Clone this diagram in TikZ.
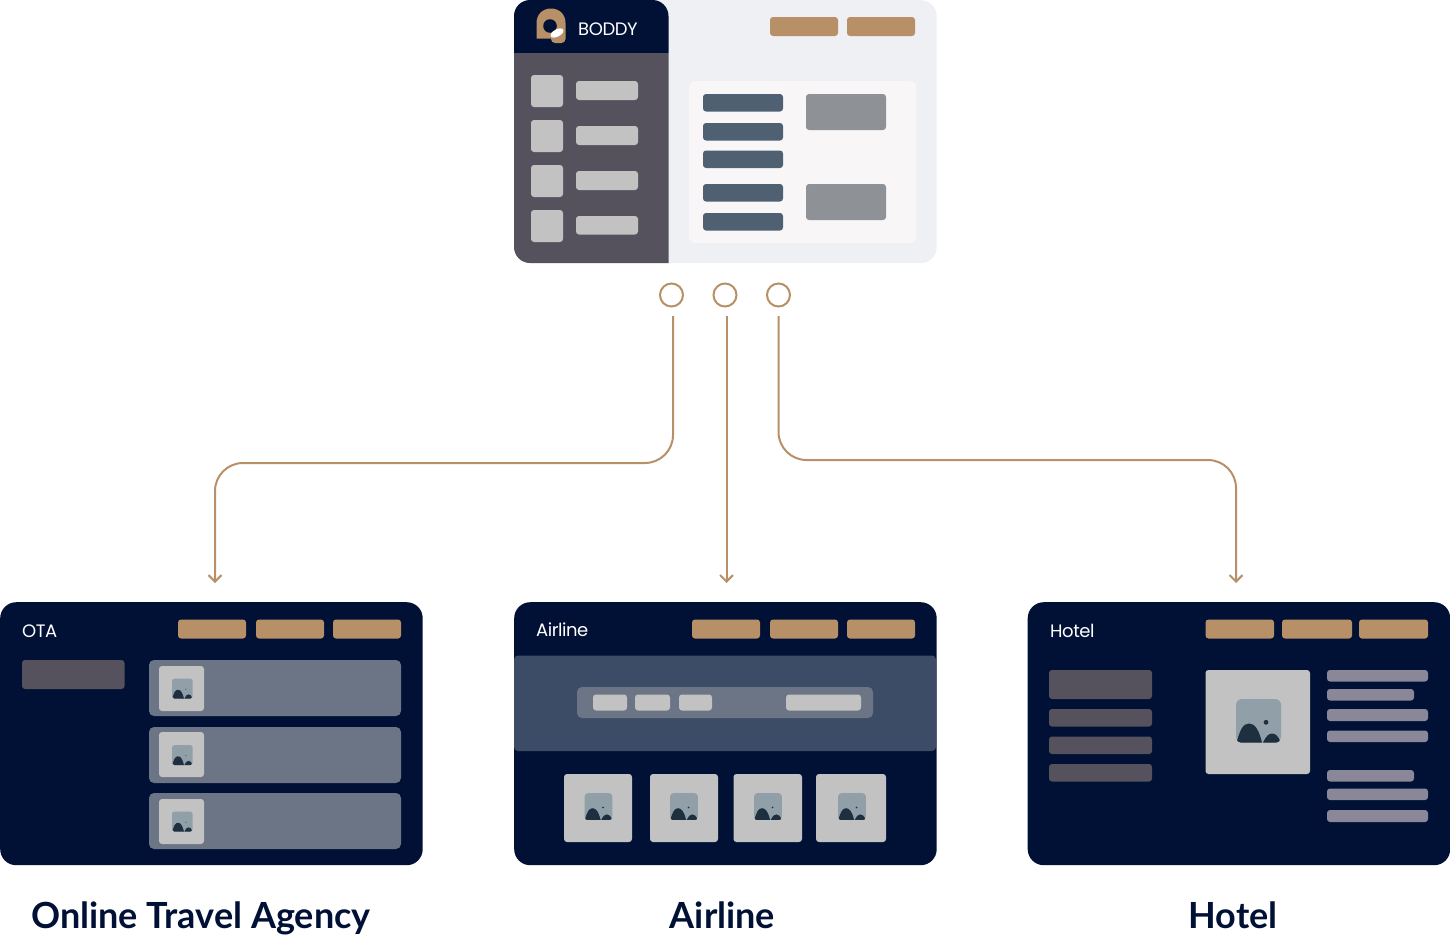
\documentclass[tikz,border=0pt]{standalone}
\usepackage{fontspec}
\setmainfont{Lato}
\newfontfamily\uifont{Poppins}[LetterSpace=-2.5]
\usetikzlibrary{arrows.meta}
\definecolor{navy}{HTML}{001135}
\definecolor{sand}{HTML}{B89068}
\definecolor{ash}{HTML}{55525E}
\definecolor{mist}{HTML}{EFF0F4}
\definecolor{paper}{HTML}{F8F6F7}
\definecolor{slate}{HTML}{4F6072}
\definecolor{stone}{HTML}{8E9296}
\definecolor{silver}{HTML}{C2C2C2}
\definecolor{steel}{HTML}{6B7585}
\definecolor{band}{HTML}{3C4C66}
\definecolor{lilac}{HTML}{8A8799}
\definecolor{sky}{HTML}{919FA8}
\definecolor{ink}{HTML}{1E2F40}
\tikzset{
  window/.style={anchor=north west, inner sep=0pt, minimum width=422.5pt, minimum height=263pt, rounded corners=16pt},
  port/.style={circle, draw=sand, line width=2pt, fill=white, inner sep=0pt, minimum size=23pt},
  wire/.style={draw=sand, line width=2pt, rounded corners=28pt},
  btn/.style={fill=sand, rounded corners=3pt},
  bar/.style={rounded corners=3pt},
  title/.style={anchor=base west, text=white, font=\uifont\fontsize{18}{18}\selectfont, inner sep=0pt},
  caption/.style={anchor=base, text=navy, font=\bfseries\fontsize{36}{36}\selectfont, inner sep=0pt}
}
% picture placeholder: left, top, width/45
\newcommand{\photo}[3]{
  \begin{scope}[shift={(#1,#2)}, scale=#3]
    \fill[sky, rounded corners=#3*6pt] (0,0) rectangle (45,43.5);
    \begin{scope}
      \clip[rounded corners=#3*4pt] (0.5,0) rectangle (44.5,43.5);
      \fill[ink] (0.5,43.5) .. controls (4,31) and (7,24.5) .. (13,24.5) .. controls (19,24.5) and (23,31) .. (26,43.5) -- cycle;
      \fill[ink] (27,43.5) .. controls (30,37) and (33,34.5) .. (36,34.5) .. controls (39.5,34.5) and (42.5,37) .. (44.5,43.5) -- cycle;
    \end{scope}
    \fill[ink] (30,23.3) circle [radius=#3*2.4pt];
  \end{scope}
}
\begin{document}
\begin{tikzpicture}[x=1pt, y=-1pt]
  \useasboundingbox (0,0) rectangle (1450,937);

  % main window
  \node[window, fill=mist] (boddy) at (514,0) {};
  \fill[navy] (514,53) [rounded corners=16pt] -- (514,0) -- (668.5,0) [sharp corners] -- (668.5,53) -- cycle;
  \fill[ash] (514,53) [rounded corners=16pt] -- (514,263) [sharp corners] -- (668.5,263) -- (668.5,53) -- cycle;
  \fill[sand] (536.5,38.5) -- (536.5,23) .. controls (536.5,14) and (543,8.5) .. (551,8.5) .. controls (559,8.5) and (565.5,14) .. (565.5,23) [rounded corners=4pt] -- (565.5,43) -- (551,43) [sharp corners] -- (551,38.5) -- cycle;
  \fill[navy] (550,26) circle [radius=6.8pt];
  \fill[white, rotate around={28:(557,33)}] (557,33) ellipse [x radius=7pt, y radius=3.6pt];
  \node[title] (boddyname) at (578,35) {BODDY};
  \fill[btn] (770,17) rectangle (838,36);
  \fill[btn] (847,17) rectangle (915,36);

  \fill[silver, bar] (531,75) rectangle (563,107);
  \fill[silver, bar] (576,81) rectangle (638,100);
  \fill[silver, bar] (531,120) rectangle (563,152);
  \fill[silver, bar] (576,126) rectangle (638,145);
  \fill[silver, bar] (531,165) rectangle (563,197);
  \fill[silver, bar] (576,171) rectangle (638,190);
  \fill[silver, bar] (531,210) rectangle (563,242);
  \fill[silver, bar] (576,216) rectangle (638,234.5);

  \fill[paper, rounded corners=6pt] (689,81) rectangle (916,243);
  \fill[slate, bar] (703,94) rectangle (783,111.5);
  \fill[slate, bar] (703,123) rectangle (783,140.5);
  \fill[slate, bar] (703,150.5) rectangle (783,168);
  \fill[slate, bar] (703,184) rectangle (783,201.5);
  \fill[slate, bar] (703,213) rectangle (783,230.5);
  \fill[stone, bar] (806,94) rectangle (886,130);
  \fill[stone, bar] (806,184) rectangle (886,220);

  % connectors
  \node[port] (portota) at (671.5,295) {};
  \node[port] (portair) at (725,295) {};
  \node[port] (porthotel) at (778.5,295) {};
  \coordinate (startota) at (673,316);
  \coordinate (startair) at (726.5,316);
  \coordinate (starthotel) at (778.5,316);
  \coordinate (endota) at (215,583);
  \coordinate (endair) at (726.5,583);
  \coordinate (endhotel) at (1236,583);
  \coordinate (bendota) at (0,463);
  \coordinate (bendhotel) at (0,460);
  \draw[wire, -{Straight Barb[length=6.5pt, width=13pt]}] (startota) |- (endota |- bendota) -- (endota);
  \draw[wire, -{Straight Barb[length=6.5pt, width=13pt]}] (startair) -- (endair);
  \draw[wire, -{Straight Barb[length=6.5pt, width=13pt]}] (starthotel) |- (endhotel |- bendhotel) -- (endhotel);

  % ota window
  \node[window, fill=navy] (ota) at (0,602) {};
  \node[title] (otaname) at (22,637) {OTA};
  \fill[btn] (178,619.5) rectangle (246,638.5);
  \fill[btn] (256,619.5) rectangle (324,638.5);
  \fill[btn] (333,619.5) rectangle (401,638.5);
  \fill[ash, bar] (22,660) rectangle (124.5,689);
  \fill[steel, rounded corners=5pt] (149,660) rectangle (401,716);
  \fill[steel, rounded corners=5pt] (149,727) rectangle (401,783);
  \fill[steel, rounded corners=5pt] (149,793) rectangle (401,849);
  \fill[silver, bar] (159,666) rectangle (204,711);
  \fill[silver, bar] (159,732) rectangle (204,777);
  \fill[silver, bar] (159,799) rectangle (204,844);
  \photo{172}{678.5}{0.46}
  \photo{172}{745}{0.46}
  \photo{172}{811.5}{0.46}
  \node[caption] (otacaption) at (201,928) {Online Travel Agency};

  % airline window
  \node[window, fill=navy] (airline) at (514,602) {};
  \node[title] (airlinename) at (536,636) {Airline};
  \fill[btn] (692,619.5) rectangle (760,638.5);
  \fill[btn] (770,619.5) rectangle (838,638.5);
  \fill[btn] (847,619.5) rectangle (915,638.5);
  \fill[band, rounded corners=4pt] (514,655.5) rectangle (936,751);
  \fill[steel, rounded corners=5pt] (577,687) rectangle (873,718);
  \fill[silver, bar] (593,694.5) rectangle (627,710.5);
  \fill[silver, bar] (635,694.5) rectangle (670,710.5);
  \fill[silver, bar] (679,694.5) rectangle (712,710.5);
  \fill[silver, bar] (786,694.5) rectangle (861,710.5);
  \fill[silver, bar] (564,774) rectangle (632,842);
  \fill[silver, bar] (650,774) rectangle (718,842);
  \fill[silver, bar] (733.5,774) rectangle (802,842);
  \fill[silver, bar] (816,774) rectangle (886,842);
  \photo{584.5}{793}{0.62}
  \photo{670}{793}{0.62}
  \photo{754}{793}{0.62}
  \photo{838}{793}{0.62}
  \node[caption] (airlinecaption) at (722.5,928) {Airline};

  % hotel window
  \node[window, fill=navy] (hotel) at (1027.5,602) {};
  \node[title] (hotelname) at (1050,637) {Hotel};
  \fill[btn] (1205.5,619.5) rectangle (1274,638.5);
  \fill[btn] (1282,619.5) rectangle (1352,638.5);
  \fill[btn] (1359,619.5) rectangle (1428,638.5);
  \fill[ash, bar] (1049,670) rectangle (1152,699);
  \fill[ash, bar] (1049,709) rectangle (1152,726.5);
  \fill[ash, bar] (1049,736.5) rectangle (1152,754);
  \fill[ash, bar] (1049,764) rectangle (1152,781.5);
  \fill[silver, bar] (1205.5,670) rectangle (1310,774);
  \photo{1236}{699}{1}
  \fill[lilac, bar] (1327,670) rectangle (1428,681.5);
  \fill[lilac, bar] (1327,689) rectangle (1414,700.5);
  \fill[lilac, bar] (1327,709) rectangle (1428,721);
  \fill[lilac, bar] (1327,730.5) rectangle (1428,742);
  \fill[lilac, bar] (1327,770) rectangle (1414,781.5);
  \fill[lilac, bar] (1327,788.5) rectangle (1428,800);
  \fill[lilac, bar] (1327,810) rectangle (1428,822);
  \node[caption] (hotelcaption) at (1233,928) {Hotel};
\end{tikzpicture}
\end{document}
